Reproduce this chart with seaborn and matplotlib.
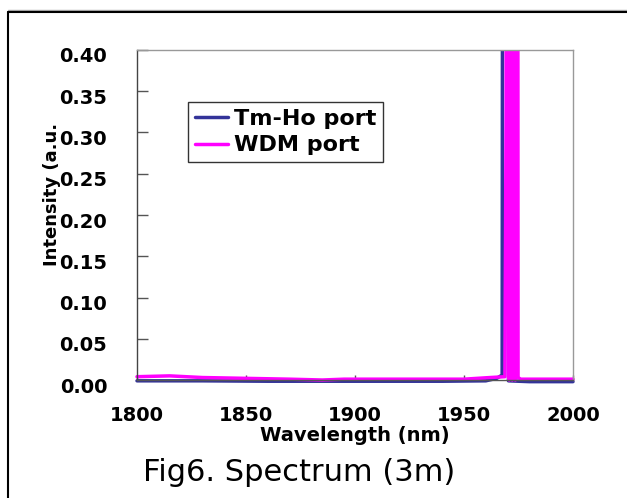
import matplotlib
matplotlib.use("Agg")
import matplotlib.pyplot as plt
import matplotlib.transforms as mtransforms
from matplotlib.lines import Line2D
import seaborn as sns

# ---- data ----
tm_ho_wl = [1800, 1830, 1860, 1900, 1940, 1960, 1965, 1967.5, 1968.1, 1969.0,
            1970.4, 1975, 1980, 1990, 2000]
tm_ho_int = [-0.001, -0.001, -0.0015, -0.0015, -0.0015, -0.001, 0.002, 0.006,
             2.0, 1.6, -0.001, -0.0015, -0.002, -0.002, -0.002]

wdm_wl = [1800, 1815, 1830, 1850, 1870, 1885, 1895, 1920, 1950, 1962, 1968.8,
          1969.3, 1970.0, 1970.75, 1971.45, 1972.15, 1972.85, 1973.55, 1974.3,
          1974.8, 1976, 1990, 2000]
wdm_int = [0.004, 0.005, 0.003, 0.002, 0.001, 0.0, 0.001, 0.001, 0.001, 0.003,
           0.004, 0.33, 3.0, 0.0, 3.0, 0.0, 3.0, 0.0, 3.0,
           0.003, 0.001, 0.001, 0.001]

x_ticks = [1800, 1850, 1900, 1950, 2000]
y_ticks = [0.00, 0.05, 0.10, 0.15, 0.20, 0.25, 0.30, 0.35, 0.40]
series_names = ["Tm-Ho port", "WDM port"]
colors = ["#333399", "#ff00ff"]

sns.set_style("white")
plt.rcParams["font.family"] = ["DejaVu Sans"]
for k in ["text.color", "axes.labelcolor", "xtick.color", "ytick.color"]:
    plt.rcParams[k] = "black"

W, H = 627, 498
fig = plt.figure(figsize=(W / 100, H / 100), dpi=100)
ax = fig.add_axes([137 / W, 1 - 380 / H, (573 - 137) / W, (380 - 50) / H])

sns.lineplot(x=tm_ho_wl, y=tm_ho_int, ax=ax, color=colors[0], lw=2.5,
             label=series_names[0], sort=False, estimator=None,
             solid_capstyle="round", solid_joinstyle="round")
sns.lineplot(x=wdm_wl, y=wdm_int, ax=ax, color=colors[1], lw=2.5,
             label=series_names[1], sort=False, estimator=None,
             solid_capstyle="round", solid_joinstyle="round")

ax.set_xlim(1800, 2000)
ax.set_ylim(0, 0.40)

# let the thick traces spill slightly below/aside the axis box (as in the original)
clip = mtransforms.TransformedBbox(
    mtransforms.Bbox([[-0.008, -0.016], [1.008, 1.0]]), ax.transAxes)
for ln in ax.lines:
    ln.set_clip_box(clip)

ax.set_xticks(x_ticks)
ax.set_xticklabels([str(v) for v in x_ticks], fontsize=14, fontweight="bold")
ax.set_yticks(y_ticks)
ax.set_yticklabels([f"{v:.2f}" for v in y_ticks], fontsize=14, fontweight="bold")

ax.tick_params(axis="y", direction="in", length=8, width=1, color="#555555",
               labelcolor="black", pad=21.5, left=True)
ax.tick_params(axis="x", direction="in", length=3.6, width=1, color="#555555",
               labelcolor="black", pad=19, bottom=True)

offset = mtransforms.ScaledTranslation(0, -5 / 100, fig.dpi_scale_trans)
for lab in ax.get_yticklabels():
    lab.set_transform(lab.get_transform() + offset)

for side, c in [("left", "#444444"), ("bottom", "#555555"),
                ("top", "#999999"), ("right", "#999999")]:
    ax.spines[side].set_visible(True)
    ax.spines[side].set_color(c)
    ax.spines[side].set_linewidth(1)

ax.set_xlabel("Wavelength (nm)", fontsize=14, fontweight="bold", va="top",
              color="black")
ax.xaxis.set_label_coords(0.5, -(426 - 380) / 330)
ax.set_ylabel("")

fig.text(52 / W, 1 - 194 / H, "Intensity (a.u.", rotation=90, fontsize=13,
         fontweight="bold", ha="center", va="center", color="black")

leg = ax.legend(loc="upper left",
                bbox_to_anchor=((188 - 137) / 436, (380 - 102) / 330),
                borderaxespad=0, prop={"weight": "bold", "size": 16},
                frameon=True, fancybox=False, framealpha=1, edgecolor="#333333",
                handlelength=1.5, handletextpad=0.25, borderpad=0.3,
                labelspacing=0.3)
leg.get_frame().set_linewidth(1)
for t in leg.get_texts():
    t.set_fontweight("bold")
    t.set_color("black")

fig.text(299.5 / W, 1 - 481 / H, "Fig6. Spectrum (3m)", fontsize=22,
         ha="center", va="baseline", color="black")

# outer frame (left and top edges visible)
fig.add_artist(Line2D([8 / W, 1], [1 - 10 / H, 1 - 10 / H],
                      transform=fig.transFigure, color="#aaaaaa", lw=1))
fig.add_artist(Line2D([8 / W, 8 / W], [0, 1 - 12 / H],
                      transform=fig.transFigure, color="black", lw=1.5))
fig.add_artist(Line2D([8 / W, 1], [1 - 12 / H, 1 - 12 / H],
                      transform=fig.transFigure, color="black", lw=1.5))

fig.savefig("out.png", dpi=100)
